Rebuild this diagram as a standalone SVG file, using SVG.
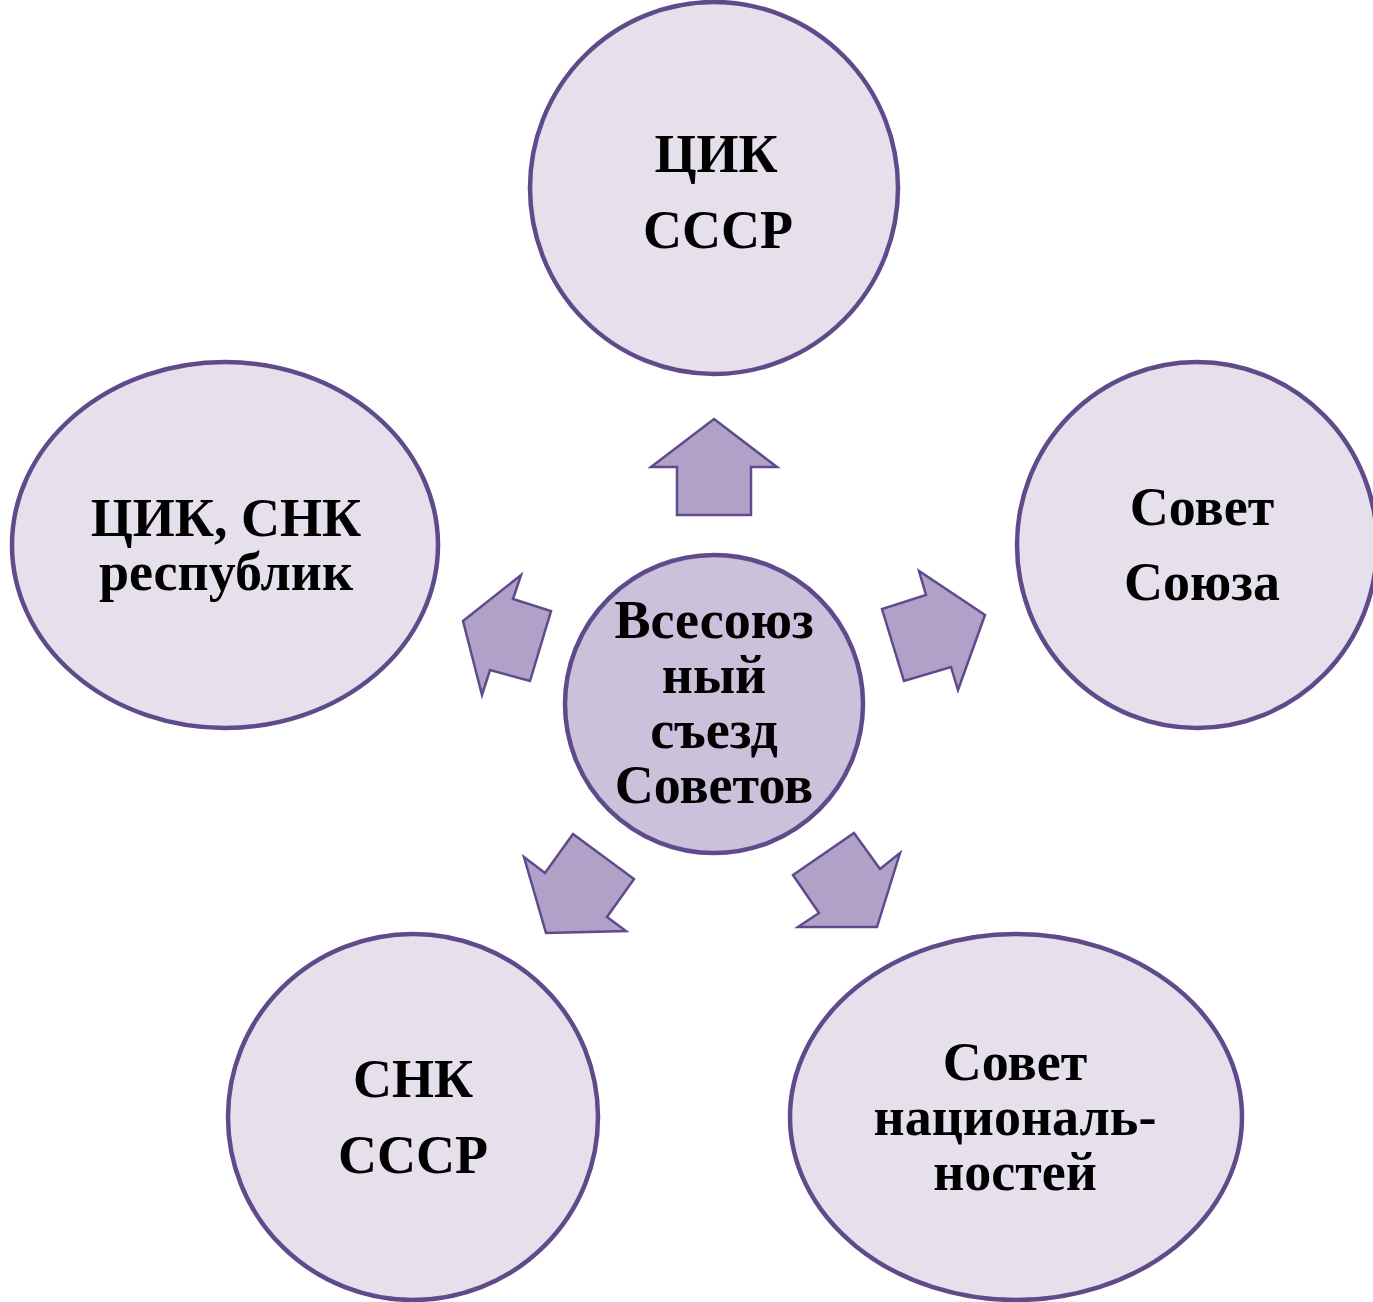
<svg xmlns="http://www.w3.org/2000/svg" width="1373" height="1302" viewBox="0 0 1373 1302">
<style>
.node{fill:#e6e0ec;stroke:#5f4b8b;stroke-width:4.5}
.hub{fill:#ccc1da;stroke:#5f4b8b;stroke-width:4.5}
.arr{fill:#b1a0c7;stroke:#5f4b8b;stroke-width:2.5;stroke-linejoin:miter}
text{font-family:"Liberation Serif","Times New Roman",serif;font-weight:bold;font-size:54px;fill:#000;text-anchor:middle}
</style>
<rect width="1373" height="1302" fill="#ffffff"/>
<g id="connectors">
<polygon class="arr" points="714,419 777,467 751,467 751,515 677,515 677,467 651,467"/>
<polygon class="arr" points="463,621 521,575 513,599 551,611 530,681 490,670 482,695"/>
<polygon class="arr" points="985,615 958,690 951,667 904,681 882,609 926,595 919,571"/>
<polygon class="arr" points="546,933 524,857 545,873 573,834 634,879 607,917 626,931"/>
<polygon class="arr" points="877,927 900,853 880,869 854,833 793,875 819,913 798,927"/>
</g>
<g id="hub">
<circle class="hub" cx="714" cy="704" r="149"/>
<text x="714" y="638">Всесоюз</text>
<text x="714" y="693">ный</text>
<text x="714" y="748">съезд</text>
<text x="714" y="803">Советов</text>
</g>
<g id="cik-sssr">
<ellipse class="node" cx="714" cy="188" rx="184" ry="186"/>
<text x="716" y="172">ЦИК</text>
<text x="718" y="248">СССР</text>
</g>
<g id="sovet-soyuza">
<ellipse class="node" cx="1197" cy="545" rx="180" ry="183"/>
<text x="1202" y="525">Совет</text>
<text x="1202" y="600">Союза</text>
</g>
<g id="cik-snk-respublik">
<ellipse class="node" cx="225" cy="545" rx="213" ry="183"/>
<text x="226" y="536">ЦИК, СНК</text>
<text x="226" y="590">республик</text>
</g>
<g id="snk-sssr">
<ellipse class="node" cx="413" cy="1117" rx="185" ry="183"/>
<text x="413" y="1097">СНК</text>
<text x="413" y="1173">СССР</text>
</g>
<g id="sovet-nacionalnostey">
<ellipse class="node" cx="1016" cy="1117" rx="226" ry="183"/>
<text x="1015" y="1080">Совет</text>
<text x="1015" y="1135">националь-</text>
<text x="1015" y="1190">ностей</text>
</g>
</svg>
